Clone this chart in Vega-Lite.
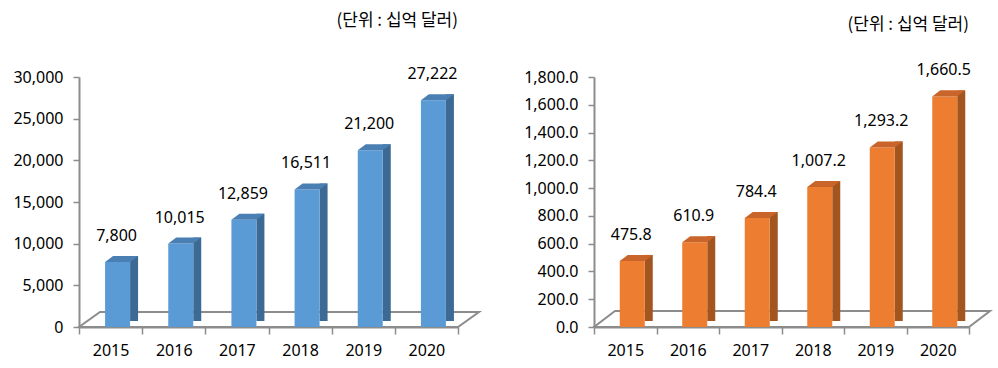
{
  "$schema": "https://vega.github.io/schema/vega-lite/v6.json",
  "padding": {"left": 12, "top": 12, "right": 0, "bottom": 5},
  "background": "white",
  "spacing": 136,
  "bounds": "flush",
  "config": {
    "view": {"stroke": null},
    "axis": {"title": null, "grid": false, "labelOverlap": false, "labelFont": "Noto Sans", "labelFontSize": 16, "labelColor": "#000000", "domainColor": "#8c8c8c", "domainWidth": 2, "tickColor": "#8c8c8c", "tickWidth": 1.5},
    "axisX": {"labelAngle": 0, "tickSize": 7, "tickBand": "extent", "labelPadding": 8},
    "axisY": {"tickSize": 6, "labelPadding": 10, "labelOverlap": false}
  },
  "hconcat": [
    {
      "width": 379,
      "height": 250,
      "title": {"text": "(단위 : 십억 달러)", "anchor": "end", "frame": "group", "font": "Noto Sans CJK KR", "fontSize": 17, "fontWeight": "normal", "color": "#000000", "offset": 36},
      "data": {"values": [
        {"year": "2015", "value": 7800},
        {"year": "2016", "value": 10015},
        {"year": "2017", "value": 12859},
        {"year": "2018", "value": 16511},
        {"year": "2019", "value": 21200},
        {"year": "2020", "value": 27222}
      ]},
      "encoding": {
        "x": {"field": "year", "type": "ordinal", "scale": {"paddingInner": 0, "paddingOuter": 0}, "axis": {"title": null}},
        "y": {"field": "value", "type": "quantitative", "scale": {"domain": [0, 30000], "nice": false},
          "axis": {"title": null, "values": [0, 5000, 10000, 15000, 20000, 25000, 30000], "format": ",d", "labelOverlap": false}}
      },
      "layer": [
        {
          "data": {"values": [{}]},
          "mark": {"type": "point", "shape": "M -1 0.0375 L 0.895 0.0375 L 1 -0.0375 L -0.895 -0.0375 Z", "size": 160000, "filled": false, "stroke": "#8c8c8c", "strokeWidth": 2, "opacity": 1, "xOffset": 10.5, "yOffset": -7.5},
          "encoding": {"x": {"datum": "2017", "bandPosition": 1}, "y": {"value": "height"}}
        },
        {
          "mark": {"type": "bar", "width": 8, "xOffset": 23.5, "yOffset": -6, "y2Offset": -7, "color": "#3d6a94"}
        },
        {
          "mark": {"type": "bar", "width": 25, "xOffset": 7, "y2Offset": -4, "color": "#5b9bd5"}
        },
        {
          "mark": {"type": "point", "shape": "M -1 0.182 L 0.515 0.182 L 1 -0.182 L -0.515 -0.182 Z", "size": 1089, "filled": true, "color": "#4a7fb3", "opacity": 1, "strokeWidth": 0, "xOffset": 11, "yOffset": -3}
        },
        {
          "mark": {"type": "text", "dx": 6, "dy": -21, "baseline": "alphabetic", "font": "Noto Sans", "fontSize": 16, "color": "#000000"},
          "encoding": {"text": {"field": "value", "type": "quantitative", "format": ",d"}}
        }
      ]
    },
    {
      "width": 375,
      "height": 250,
      "title": {"text": "(단위 : 십억 달러)", "anchor": "end", "frame": "group", "font": "Noto Sans CJK KR", "fontSize": 17, "fontWeight": "normal", "color": "#000000", "offset": 28},
      "data": {"values": [
        {"year": "2015", "value": 475.8},
        {"year": "2016", "value": 610.9},
        {"year": "2017", "value": 784.4},
        {"year": "2018", "value": 1007.2},
        {"year": "2019", "value": 1293.2},
        {"year": "2020", "value": 1660.5}
      ]},
      "encoding": {
        "x": {"field": "year", "type": "ordinal", "scale": {"paddingInner": 0, "paddingOuter": 0}, "axis": {"title": null}},
        "y": {"field": "value", "type": "quantitative", "scale": {"domain": [0, 1800], "nice": false},
          "axis": {"title": null, "values": [0, 200, 400, 600, 800, 1000, 1200, 1400, 1600, 1800], "format": ",.1f", "labelOverlap": false}}
      },
      "layer": [
        {
          "data": {"values": [{}]},
          "mark": {"type": "point", "shape": "M -1 0.0404 L 0.894 0.0404 L 1 -0.0404 L -0.894 -0.0404 Z", "size": 156816, "filled": false, "stroke": "#8c8c8c", "strokeWidth": 2, "opacity": 1, "xOffset": 10.5, "yOffset": -8},
          "encoding": {"x": {"datum": "2017", "bandPosition": 1}, "y": {"value": "height"}}
        },
        {
          "mark": {"type": "bar", "width": 8, "xOffset": 23.5, "yOffset": -6, "y2Offset": -7, "color": "#a3551f"}
        },
        {
          "mark": {"type": "bar", "width": 25, "xOffset": 7, "y2Offset": -4, "color": "#ed7d31"}
        },
        {
          "mark": {"type": "point", "shape": "M -1 0.182 L 0.515 0.182 L 1 -0.182 L -0.515 -0.182 Z", "size": 1089, "filled": true, "color": "#c9652a", "opacity": 1, "strokeWidth": 0, "xOffset": 11, "yOffset": -3}
        },
        {
          "mark": {"type": "text", "dx": 6, "dy": -21, "baseline": "alphabetic", "font": "Noto Sans", "fontSize": 16, "color": "#000000"},
          "encoding": {"text": {"field": "value", "type": "quantitative", "format": ",.1f"}}
        }
      ]
    }
  ]
}
